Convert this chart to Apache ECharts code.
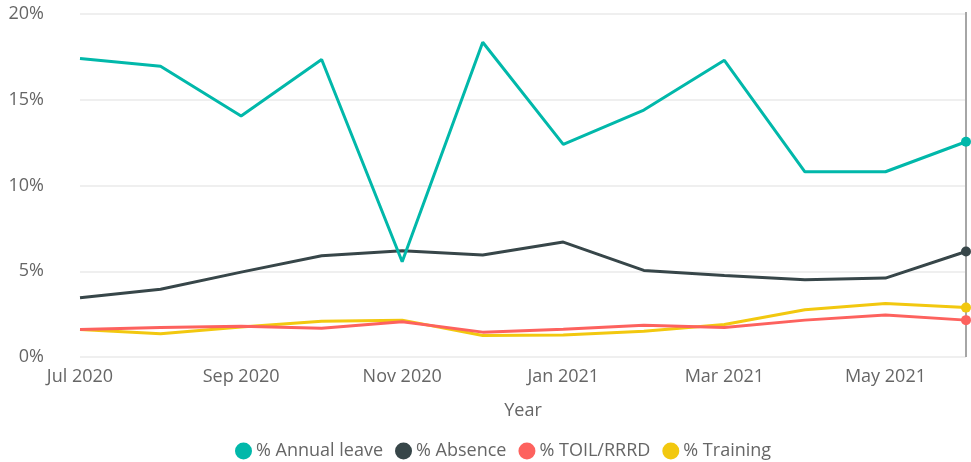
<!DOCTYPE html>
<html>
<head>
<meta charset="utf-8">
<script src="https://cdn.jsdelivr.net/npm/echarts@6/dist/echarts.min.js"></script>
<style>
  html, body { margin: 0; padding: 0; background: #fff; }
  #chart { width: 971px; height: 462px; }
</style>
</head>
<body>
<div id="chart"></div>
<script>
const months = ['Jul 2020', 'Aug 2020', 'Sep 2020', 'Oct 2020', 'Nov 2020', 'Dec 2020',
                'Jan 2021', 'Feb 2021', 'Mar 2021', 'Apr 2021', 'May 2021', 'Jun 2021'];
const annualLeave = [17.4, 16.95, 14.05, 17.35, 5.55, 18.35, 12.4, 14.4, 17.3, 10.8, 10.8, 12.55];
const absence     = [3.45, 3.95, 4.95, 5.9, 6.2, 5.95, 6.7, 5.05, 4.75, 4.5, 4.6, 6.15];
const toil        = [1.6, 1.72, 1.8, 1.68, 2.05, 1.45, 1.62, 1.85, 1.72, 2.15, 2.45, 2.15];
const training    = [1.6, 1.35, 1.75, 2.08, 2.15, 1.25, 1.28, 1.5, 1.9, 2.75, 3.12, 2.88];

const seriesNames = ['% Annual leave', '% Absence', '% TOIL/RRRD', '% Training'];
const seriesColors = ['#01B8AA', '#374649', '#FD625E', '#F2C80F'];
const seriesData = [annualLeave, absence, toil, training];

const textColor = '#666666';
const fontFamily = '"Open Sans", "Noto Sans", sans-serif';
const lastIndex = months.length - 1;

const chart = echarts.init(document.getElementById('chart'), null, { renderer: 'canvas' });

const series = seriesData.map((data, i) => ({
  name: seriesNames[i],
  type: 'line',
  data: data,
  symbol: 'circle',
  showSymbol: true,
  symbolSize: (v, p) => (p.dataIndex === lastIndex ? 10 : 0),
  lineStyle: { width: 3, color: seriesColors[i] },
  itemStyle: { color: seriesColors[i] },
  z: 10 - i,
  animation: false,
  markLine: i === 0 ? {
    silent: true,
    symbol: 'none',
    label: { show: false },
    lineStyle: { color: '#A6A6A6', width: 2, type: 'solid' },
    data: [[{ xAxis: lastIndex, y: 12 }, { xAxis: lastIndex, yAxis: 0 }]],
    z: 1
  } : undefined
}));

chart.setOption({
  animation: false,
  color: seriesColors,
  grid: { left: 80, right: 5, top: 14, bottom: 105, containLabel: false },
  xAxis: {
    type: 'category',
    data: months,
    boundaryGap: false,
    name: 'Year',
    nameLocation: 'middle',
    nameGap: 45,
    nameTextStyle: { color: textColor, fontSize: 18, fontFamily: fontFamily },
    axisLine: { show: false },
    axisTick: { show: false },
    axisLabel: { interval: 1, color: textColor, fontSize: 18, fontFamily: fontFamily, margin: 11 },
    splitLine: { show: false }
  },
  yAxis: {
    type: 'value',
    min: 0,
    max: 20,
    interval: 5,
    axisLine: { show: false },
    axisTick: { show: false },
    axisLabel: { formatter: '{value}%', color: textColor, fontSize: 18, fontFamily: fontFamily, margin: 36 },
    splitLine: { lineStyle: { color: '#EAEAEA', width: 1.5 } }
  },
  legend: {
    bottom: -3,
    left: 230,
    icon: 'circle',
    itemWidth: 17,
    itemHeight: 17,
    itemGap: 12,
    textStyle: { color: textColor, fontSize: 18, fontFamily: fontFamily, padding: [0, 0, 0, -1] },
    data: seriesNames
  },
  series: series
});
</script>
</body>
</html>
